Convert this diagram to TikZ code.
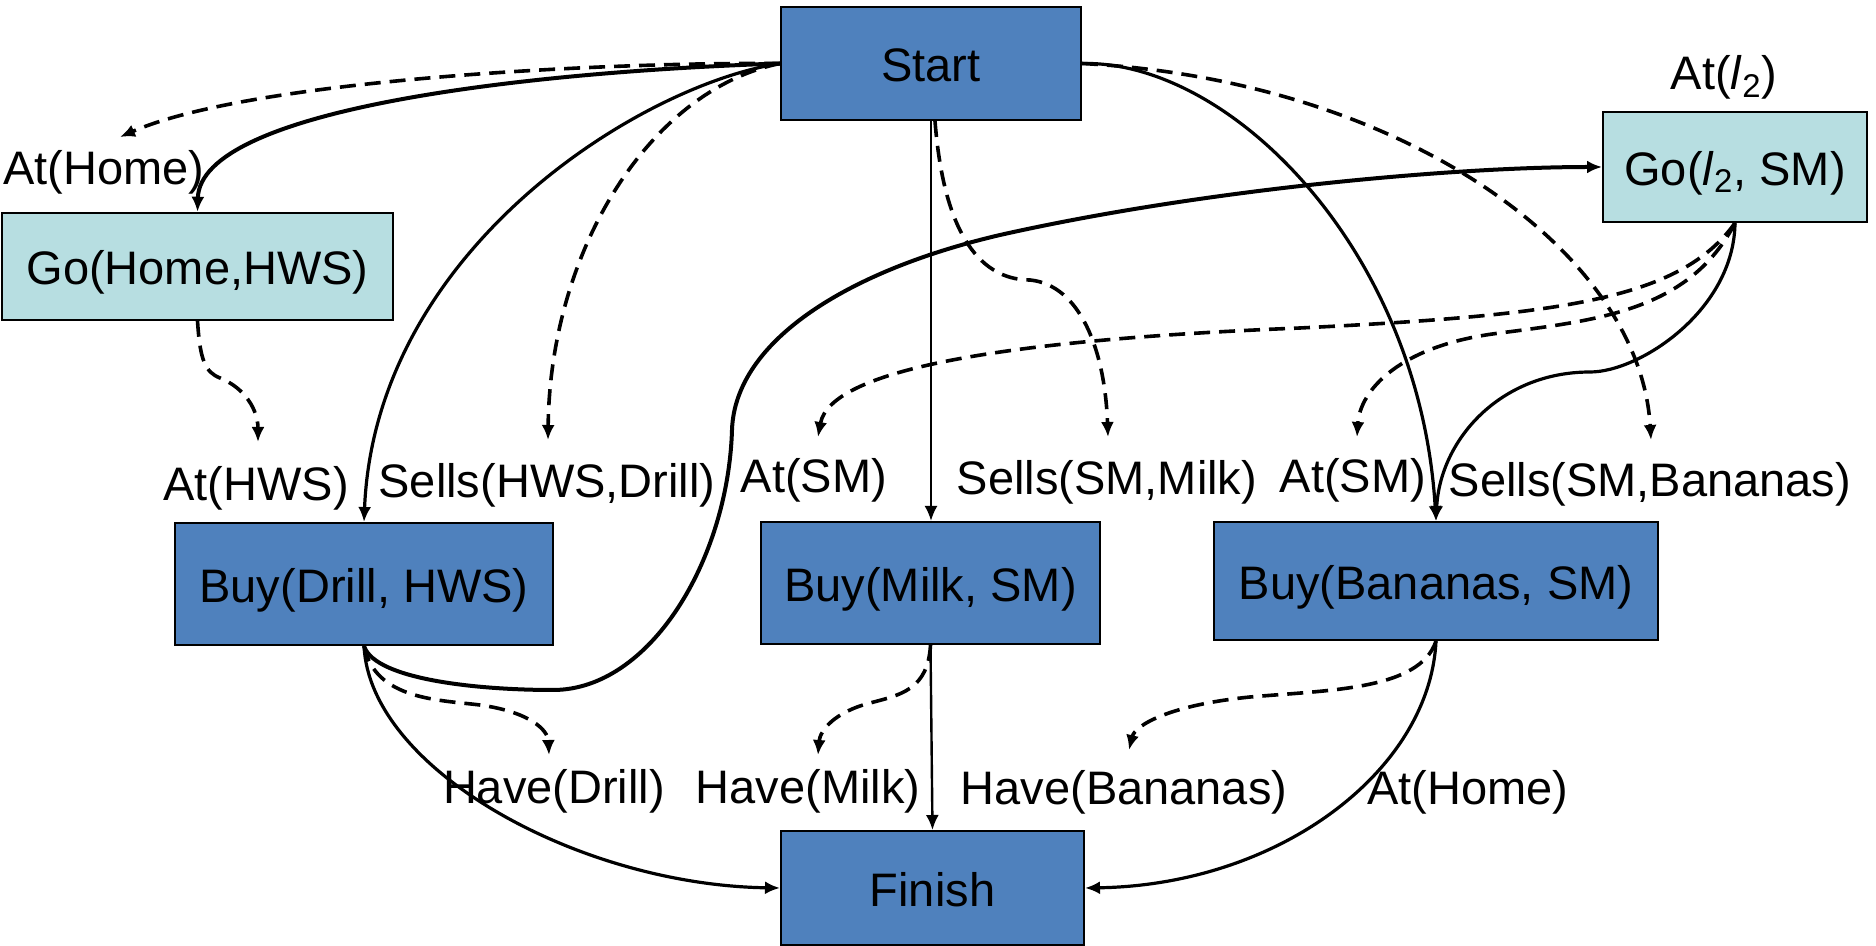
\documentclass[tikz,border=0pt]{standalone}
\usepackage{fontspec}
\setmainfont{Liberation Sans}
\usetikzlibrary{arrows.meta}
\definecolor{boxblue}{RGB}{79,129,189}
\definecolor{boxcyan}{RGB}{183,222,225}
\begin{document}
\begin{tikzpicture}[x=0.5pt,y=-0.5pt,
  font=\fontsize{23.5}{28}\selectfont,
  box/.style={draw=black, line width=1pt, inner sep=0pt, align=center, text height=18.5pt, text depth=0pt},
  bluebox/.style={box, fill=boxblue},
  cyanbox/.style={box, fill=boxcyan},
  lbl/.style={anchor=base, inner sep=0pt},
  conn/.style={line width=1.6pt, -{Latex[length=7.5pt,width=6.5pt]}},
  thinconn/.style={conn, line width=1.2pt},
  thickconn/.style={conn, line width=2pt},
  dconn/.style={conn, line width=1.8pt, dash pattern=on 8pt off 4.5pt},
]
\useasboundingbox (0,0) rectangle (1876,946);

% boxes
\node[bluebox, minimum width=150pt, minimum height=56.5pt] (Start) at (931,63.5) {Start};
\node[cyanbox, minimum width=195.5pt, minimum height=53.5pt] (GoHome) at (197.5,266.3) {Go(Home,HWS)};
\node[cyanbox, minimum width=132pt, minimum height=55pt] (GoL) at (1735,167) {Go(\textit{l}\textsubscript{2}, SM)};
\node[bluebox, minimum width=189pt, minimum height=61pt] (BuyDrill) at (364,584) {Buy(Drill, HWS)};
\node[bluebox, minimum width=169.5pt, minimum height=61pt] (BuyMilk) at (930.5,583) {Buy(Milk, SM)};
\node[bluebox, minimum width=222pt, minimum height=59pt] (BuyBan) at (1436,581) {Buy(Bananas, SM)};
\node[bluebox, minimum width=151.5pt, minimum height=57pt] (Finish) at (932.5,888) {Finish};

% labels
\node[lbl] (lAtHome) at (104,185) {At(Home)};
\node[lbl] (lAtL) at (1724,90) {At(\textit{l}\textsubscript{2})};
\node[lbl] (lAtHWS) at (256,501) {At(HWS)};
\node[lbl] (lSellsHWS) at (547,498) {Sells(HWS,Drill)};
\node[lbl] (lAtSMa) at (814,493) {At(SM)};
\node[lbl] (lSellsMilk) at (1107,495) {Sells(SM,Milk)};
\node[lbl] (lAtSMb) at (1353,493) {At(SM)};
\node[lbl] (lSellsBan) at (1650,497) {Sells(SM,Bananas)};
\node[lbl] (lHaveDrill) at (554,803) {Have(Drill)};
\node[lbl] (lHaveMilk) at (808,803) {Have(Milk)};
\node[lbl] (lHaveBan) at (1124,805) {Have(Bananas)};
\node[lbl] (lAtHomeB) at (1468,805) {At(Home)};

% arrow tip coordinates near labels
\coordinate (tAtHome) at (120,137);
\coordinate (tAtHWS) at (258,442);
\coordinate (tSellsHWS) at (548,440);
\coordinate (tAtSMa) at (818,437);
\coordinate (tSellsMilk) at (1108,437);
\coordinate (tAtSMb) at (1357,437);
\coordinate (tSellsBan) at (1651,440);
\coordinate (tHaveDrill) at (549,755);
\coordinate (tHaveMilk) at (818,755);
\coordinate (tHaveBan) at (1129,750);

% solid connectors
\draw[thickconn] (Start.west) .. controls (520,72) and (200,110) .. (GoHome.north);
\draw[conn] (Start.west) .. controls (640,85) and (375,250) .. (BuyDrill.north);
\draw[thinconn] (Start.south) -- (BuyMilk.north -| Start.south);
\draw[conn] (Start.east) .. controls (1230,60) and (1420,250) .. (BuyBan.north);
\draw[thickconn] (BuyDrill.south) .. controls (375,680) and (480,690) .. (553,690)
   .. controls (650,690) and (728,560) .. (732,430)
   .. controls (735,340) and (850,270) .. (1000,235)
   .. controls (1200,190) and (1450,167) .. (GoL.west);
\draw[conn] (GoL.south) .. controls (1734,310) and (1640,372) .. (1590,372)
   .. controls (1500,372) and (1440,440) .. (BuyBan.north);
\draw[conn] (BuyDrill.south) .. controls (370,770) and (580,885) .. (Finish.west);
\draw[thinconn] (BuyMilk.south) -- (Finish.north);
\draw[conn] (BuyBan.south) .. controls (1430,770) and (1280,885) .. (Finish.east);

% dashed connectors
\draw[dconn] (Start.west) .. controls (600,62) and (250,80) .. (tAtHome);
\draw[dconn] (Start.west) .. controls (650,90) and (550,250) .. (tSellsHWS);
\draw[dconn] (GoHome.south) .. controls (200,360) and (205,372) .. (220,378)
   .. controls (245,388) and (258,410) .. (tAtHWS);
\draw[dconn] ([xshift=2pt]Start.south) .. controls (945,250) and (990,280) .. (1030,280)
   .. controls (1080,285) and (1105,350) .. (tSellsMilk);
\draw[dconn] (GoL.south) .. controls (1680,300) and (1560,315) .. (1300,328)
   .. controls (1000,340) and (830,370) .. (tAtSMa);
\draw[dconn] (GoL.south) .. controls (1690,310) and (1600,320) .. (1500,333)
   .. controls (1400,345) and (1360,390) .. (tAtSMb);
\draw[dconn] (Start.east) .. controls (1400,80) and (1640,250) .. (tSellsBan);
\draw[dconn] (BuyDrill.south) .. controls (375,700) and (440,700) .. (480,705)
   .. controls (530,712) and (548,730) .. (tHaveDrill);
\draw[dconn] (BuyMilk.south) .. controls (928,690) and (900,695) .. (870,703)
   .. controls (835,712) and (820,730) .. (tHaveMilk);
\draw[dconn] (BuyBan.south) .. controls (1420,690) and (1330,690) .. (1250,697)
   .. controls (1170,705) and (1135,725) .. (tHaveBan);
\end{tikzpicture}
\end{document}
